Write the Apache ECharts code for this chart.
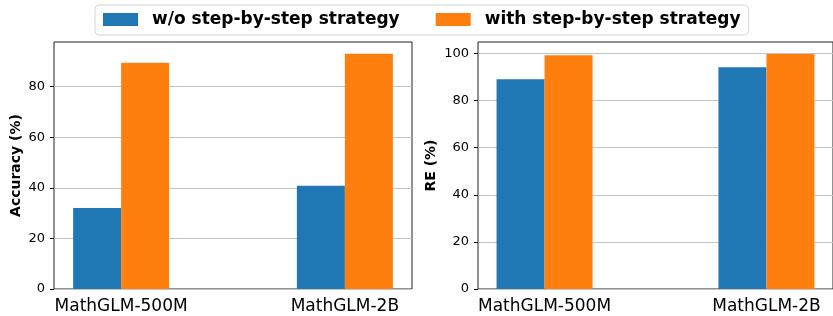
<!DOCTYPE html>
<html>
<head>
<meta charset="utf-8">
<script src="https://cdn.jsdelivr.net/npm/echarts@6/dist/echarts.min.js"></script>
<style>
  html, body { margin: 0; padding: 0; background: #fff; }
  #chart { width: 833px; height: 316px; }
</style>
</head>
<body>
<div id="chart"></div>
<script>
// models on the x axis (bars sit at positions 0 and 1)
const models = ["MathGLM-500M", "MathGLM-2B"];
const seriesNames = ["w/o step-by-step strategy", "with step-by-step strategy"];

// accuracy (%)
const accWithout = [32.0, 40.8];
const accWith = [89.5, 93.1];

// RE (%)
const reWithout = [89.1, 94.2];
const reWith = [99.3, 99.8];

const accTicks = [0, 20, 40, 60, 80];
const reTicks = [0, 20, 40, 60, 80, 100];

const colors = ["#1f77b4", "#ff7f0e"];
const font = "DejaVu Sans";

const toPoints = (arr) => arr.map((v, i) => [i, v]);

function xAxisOf(gridIndex) {
	return {
		type: "value",
		gridIndex,
		min: -0.3,
		max: 1.3,
		axisLine: { show: false, onZero: false },
		axisTick: { show: false },
		splitLine: { show: false },
		axisLabel: {
			customValues: [0, 1],
			formatter: (v) => models[Math.round(v)],
			fontFamily: font,
			fontSize: 17,
			color: "#000",
			margin: 9,
		},
	};
}

function yAxisOf(gridIndex, name, max, ticks, nameGap) {
	return {
		type: "value",
		gridIndex,
		min: 0,
		max,
		name,
		nameLocation: "middle",
		nameGap,
		nameTextStyle: {
			fontFamily: font,
			fontWeight: "bold",
			fontSize: 14,
			color: "#000",
		},
		axisLine: { show: false, onZero: false },
		axisTick: {
			show: true,
			customValues: ticks,
			length: 4,
			lineStyle: { color: "#000", width: 1 },
		},
		axisLabel: {
			customValues: ticks,
			fontFamily: font,
			fontSize: 13,
			color: "#000",
			margin: 9,
		},
		splitLine: {
			show: true,
			lineStyle: { color: "#c4c4c4", width: 1 },
		},
	};
}

function barSeries(name, data, idx, axisIdx) {
	return {
		name,
		type: "bar",
		xAxisIndex: axisIdx,
		yAxisIndex: axisIdx,
		data: toPoints(data),
		barWidth: 48,
		barGap: "0%",
		itemStyle: { color: colors[idx] },
		emphasis: { disabled: true },
	};
}

const option = {
	animation: false,
	textStyle: { fontFamily: font },
	legend: {
		data: seriesNames,
		left: 95,
		top: 5,
		padding: [6, 8, 7, 8],
		itemWidth: 35,
		itemHeight: 13,
		itemGap: 36,
		icon: "rect",
		borderColor: "#d4d4d4",
		borderWidth: 1,
		borderRadius: 4,
		textStyle: {
			fontFamily: font,
			fontWeight: "bold",
			fontSize: 17,
			color: "#000",
			padding: [0, 0, 0, 9],
		},
	},
	grid: [
		{ left: 54, right: 421, top: 42, bottom: 27, show: true, borderColor: "#222", borderWidth: 1 },
		{ left: 478, right: -6, top: 42, bottom: 27, show: true, borderColor: "#222", borderWidth: 1 },
	],
	xAxis: [xAxisOf(0), xAxisOf(1)],
	yAxis: [
		yAxisOf(0, "Accuracy (%)", 97.7, accTicks, 31),
		yAxisOf(1, "RE (%)", 104.9, reTicks, 40),
	],
	series: [
		barSeries(seriesNames[0], accWithout, 0, 0),
		barSeries(seriesNames[1], accWith, 1, 0),
		barSeries(seriesNames[0], reWithout, 0, 1),
		barSeries(seriesNames[1], reWith, 1, 1),
	],
};

const chart = echarts.init(document.getElementById("chart"), null, { renderer: "canvas" });
chart.setOption(option);
</script>
</body>
</html>
